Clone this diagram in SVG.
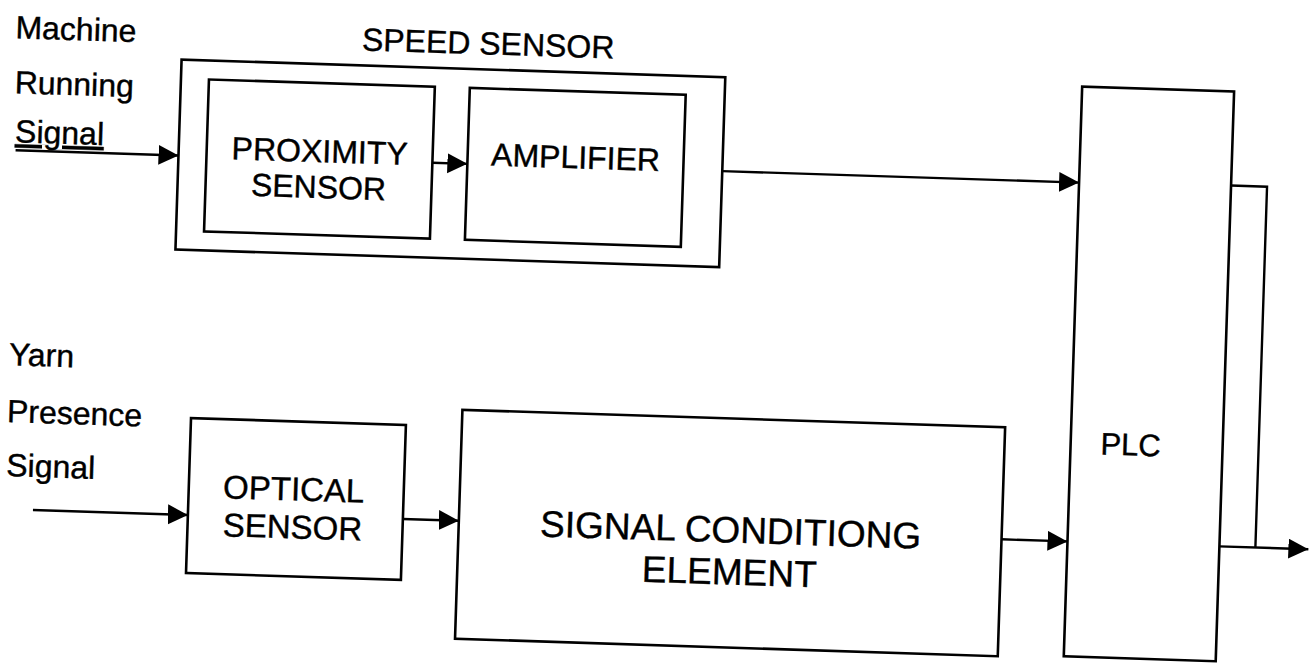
<svg xmlns="http://www.w3.org/2000/svg" width="1310" height="667" viewBox="0 0 1310 667">
<style>
  .box{fill:none;stroke:#000;stroke-width:2.6}
  .t{font-family:"Liberation Sans",Arial,sans-serif;font-size:32px;fill:#000;stroke:#000;stroke-width:0.4}
  .c{text-anchor:middle}
  .ln{fill:none;stroke:#000;stroke-width:2.4}
  .arr{marker-end:url(#ah)}
</style>
<defs>
  <marker id="ah" markerUnits="userSpaceOnUse" markerWidth="22" markerHeight="22" refX="20" refY="10" orient="auto">
    <path d="M0,0 L20,10 L0,20 z" fill="#000"/>
  </marker>
</defs>
<rect width="1310" height="667" fill="#fff"/>
<g transform="rotate(1.85 655 333)">
  <g id="labels">
    <text class="t" x="6" y="59">Machine</text>
    <text class="t" x="7" y="114">Running</text>
    <text class="t" x="9" y="163" text-decoration="underline">Signal</text>
    <text class="t" x="10" y="386">Yarn</text>
    <text class="t" x="10" y="443">Presence</text>
    <text class="t" x="11" y="497">Signal</text>
  </g>
  <g id="speed-sensor">
    <text class="t c" x="479" y="60">SPEED SENSOR</text>
    <rect class="box" x="173" y="75" width="544" height="190"/>
  </g>
  <g id="proximity-sensor">
    <rect class="box" x="201" y="94" width="226" height="152"/>
    <text class="t c" x="314" y="173">PROXIMITY</text>
    <text class="t c" x="314" y="209">SENSOR</text>
  </g>
  <g id="amplifier">
    <rect class="box" x="462" y="94" width="216" height="152"/>
    <text class="t c" x="570" y="171">AMPLIFIER</text>
  </g>
  <g id="plc">
    <rect class="box" x="1074" y="73" width="152" height="570"/>
    <text class="t c" x="1134" y="440" style="font-size:31px">PLC</text>
  </g>
  <g id="optical-sensor">
    <rect class="box" x="194" y="433" width="215" height="155"/>
    <text class="t c" x="299" y="512" style="font-size:33px">OPTICAL</text>
    <text class="t c" x="299" y="550" style="font-size:33px">SENSOR</text>
  </g>
  <g id="signal-conditioning">
    <rect class="box" x="465" y="416" width="543" height="229"/>
    <text class="t c" x="737" y="540" style="font-size:37px">SIGNAL CONDITIONG</text>
    <text class="t c" x="737" y="582" style="font-size:37px">ELEMENT</text>
  </g>
  <g id="connectors">
    <path class="ln arr" d="M10,171 H173"/>
    <path class="ln arr" d="M427,170 H462"/>
    <path class="ln arr" d="M717,169 H1074"/>
    <path class="ln arr" d="M39,530 H194"/>
    <path class="ln arr" d="M409,527 H465"/>
    <path class="ln arr" d="M1008,528 H1074"/>
    <path class="ln arr" d="M1226,528 H1315"/>
    <path class="ln" d="M1226,167 H1262 V528"/>
  </g>
</g>
</svg>
